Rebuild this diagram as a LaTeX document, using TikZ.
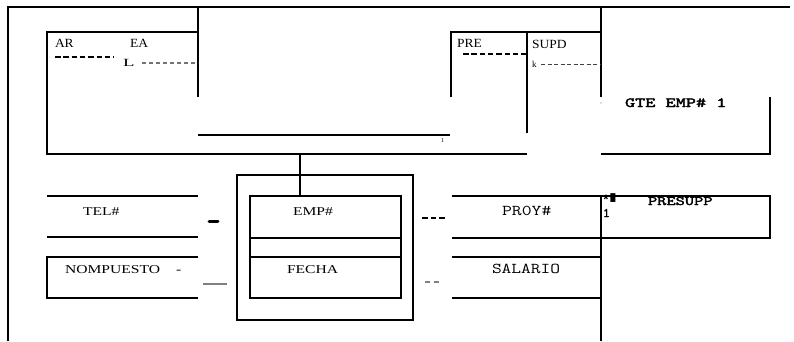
\documentclass[tikz,border=0pt]{standalone}
\usepackage{fontspec}
\setmainfont{Liberation Serif}
\newfontfamily\wserif[FakeStretch=1.3]{Liberation Serif}
\newfontfamily\tserif[FakeStretch=1.08]{Liberation Serif}
\newfontfamily\lserif[FakeStretch=1.7]{Liberation Serif}
\newfontfamily\monof{Liberation Mono}
\newfontfamily\bmono[FakeBold=2.2]{lmmono10-regular.otf}
\newcommand{\wide}[2]{\scalebox{#1}[1]{#2}}
\begin{document}
\begin{tikzpicture}[x=1pt,y=-1pt,
  frame/.style={line width=2.2pt, black},
  lbl/.style={anchor=base west, inner sep=0pt, outer sep=0pt},
  topfont/.style={font=\tserif\fontsize{12.5}{14}\selectfont},
  lowfont/.style={font=\wserif\fontsize{12}{14}\selectfont},
  monofont/.style={font=\ttfamily\fontsize{15}{17}\selectfont},
  boldmono/.style={font=\bmono\fontsize{14}{16}\selectfont},
  blackdash/.style={line width=2.4pt, black, dash pattern=on 5.5pt off 2.8pt},
  greydash/.style={line width=1.2pt, black!55, dash pattern=on 4pt off 3pt},
  thindash/.style={line width=0.8pt, black!75, dash pattern=on 4pt off 2.5pt}]
\useasboundingbox (0,0) rectangle (794,341);
% ---- upper frame ----
\coordinate (tl) at (8,7);
\coordinate (tr) at (790,7);
\draw[frame] (8,341) -- (tl) -- (tr);
\draw[frame] (198,7) -- (198,97);
\draw[frame] (601,7) -- (601,97);
\draw[frame] (198,32) -- (47,32) -- (47,154) -- (527,154);
\draw[frame] (198,135) -- (450,135);
\draw[frame] (451,97) -- (451,32) -- (601,32);
\draw[frame] (527,32) -- (527,133);
\draw[frame] (601,154) -- (770,154) -- (770,97);
\fill[black!60] (601,103) circle (0.7pt);
\draw[frame] (300,154) -- (300,196);
% labels top
\node[lbl, topfont] (ar) at (55,47) {AR};
\node[lbl, topfont] (ea) at (130,47) {EA};
\draw[blackdash] (55,57) -- (114,57);
\node[lbl, font=\lserif\fontsize{11}{12}\selectfont] (l) at (123,66) {L};
\draw[greydash] (142,63) -- (198,63);
\node[lbl, topfont] (pre) at (457,47) {PRE};
\draw[blackdash] (463,54) -- (526,54);
\node[lbl, topfont] (supd) at (532,48) {SUPD};
\node[lbl, font=\fontsize{9}{10}\selectfont] (k) at (532,67) {k};
\draw[thindash] (541,64) -- (601,64);
\node[lbl, boldmono] (gte) at (625,107) {\wide{1.38}{GTE EMP\# 1}};
\node[lbl, font=\fontsize{6}{7}\selectfont] (one) at (441,142) {1};
% ---- lower part ----
\draw[frame] (47,196) -- (198,196);
\draw[frame] (47,237) -- (198,237);
\draw[frame] (198,257) -- (47,257) -- (47,298) -- (198,298);
\node[lbl, lowfont] (tel) at (83,215) {TEL\#};
\node[lbl, lowfont] (nom) at (65,273) {NOMPUESTO\hspace{16pt}-};
\draw[line width=3pt, line cap=round] (209,221) -- (218,221);
\draw[line width=1.5pt, black!50] (203,284) -- (227,284);
% EMP box
\draw[frame] (237,175) rectangle (413,320);
\draw[frame] (250,196) rectangle (401,298);
\draw[frame] (250,238) -- (401,238);
\draw[frame] (250,257) -- (401,257);
\node[lbl, lowfont] (emp) at (293,215) {EMP\#};
\node[lbl, lowfont] (fecha) at (287,273) {FECHA};
\draw[line width=2.4pt, dash pattern=on 5.5pt off 3pt] (422,218) -- (446,218);
\draw[line width=1.3pt, black!50, dash pattern=on 5pt off 4pt] (425,282) -- (441,282);
% right rows
\draw[frame] (452,196) -- (601,196);
\draw[frame] (452,238) -- (601,238);
\draw[frame] (452,257) -- (601,257);
\draw[frame] (452,298) -- (601,298);
\node[lbl, monofont] (proy) at (502,215) {\wide{1.28}{PR0Y\#}};
\node[lbl, monofont] (sal) at (492,273) {\wide{1.26}{SALARIO}};
% PRESUPP box
\draw[frame] (601,341) -- (601,196) -- (770,196) -- (770,238) -- (601,238);
\node[lbl, font=\monof\bfseries\fontsize{13}{14}\selectfont] (star) at (602,204) {*\raisebox{1pt}{\scalebox{0.8}[1.4]{■}}};
\node[lbl, font=\bmono\fontsize{13}{14}\selectfont] (onep) at (603,217) {1};
\node[lbl, font=\bmono\fontsize{13}{15}\selectfont] (presupp) at (648,205) {\wide{1.35}{PRESUPP}};
\end{tikzpicture}
\end{document}
